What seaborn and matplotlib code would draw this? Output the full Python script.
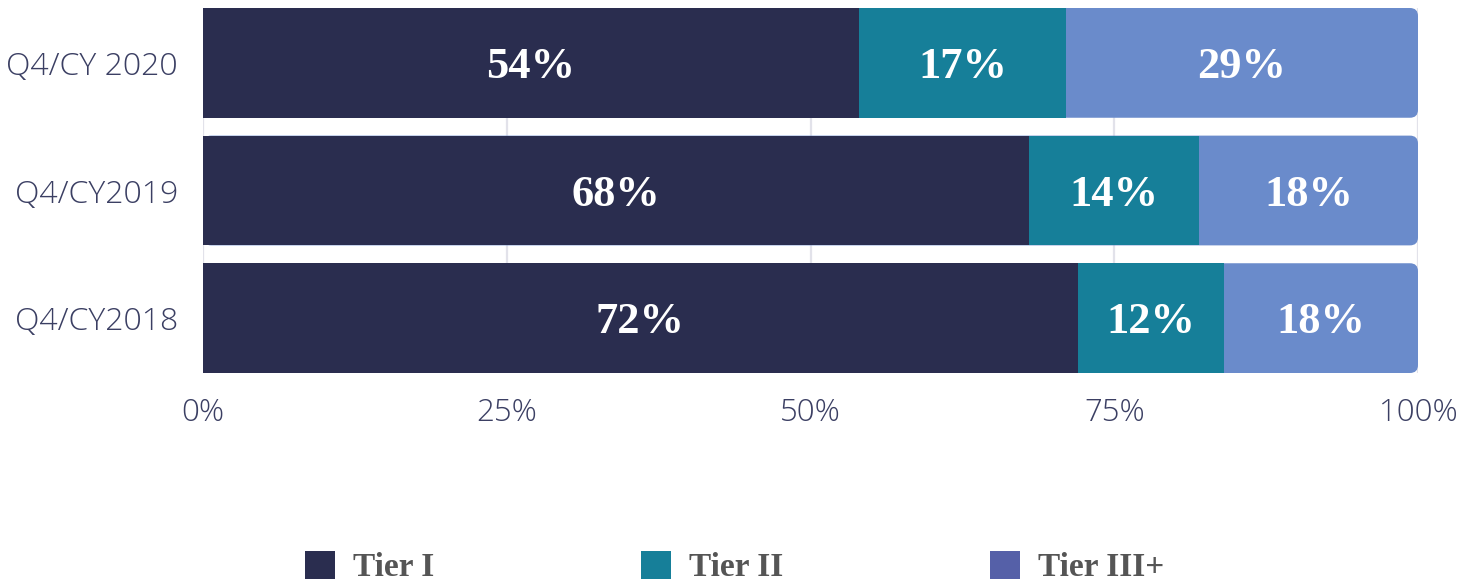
import numpy as np
import pandas as pd
import matplotlib
matplotlib.use("Agg")
import matplotlib.pyplot as plt
import matplotlib.transforms as mtrans
import seaborn as sns
from matplotlib.patches import FancyBboxPatch, Patch

# ---- data ----
periods = ["Q4/CY 2020", "Q4/CY2019", "Q4/CY2018"]
tiers = ["Tier I", "Tier II", "Tier III+"]
tier1 = [54, 68, 72]
tier2 = [17, 14, 12]
tier3 = [29, 18, 18]
xticks = [0, 25, 50, 75, 100]
xtick_labels = ["0%", "25%", "50%", "75%", "100%"]

bar_colors = ["#2a2d4f", "#167f99", "#6a8bcb"]
legend_colors = ["#2a2d4f", "#167f99", "#5560a8"]

sns.set_theme(style="white")
plt.rcParams["font.family"] = ["Open Sans", "DejaVu Sans"]

W, H = 1478, 588
fig = plt.figure(figsize=(W / 100, H / 100), dpi=100)
ax = fig.add_axes([203 / W, 1 - 373 / H, 1215 / W, 365 / H])

df = pd.DataFrame({"period": periods, "t1": tier1, "t2": tier2, "t3": tier3})
df["c1"] = df["t1"]
df["c2"] = df["t1"] + df["t2"]
df["c3"] = np.minimum(df["t1"] + df["t2"] + df["t3"], 100)

bar_w = 0.86
for xv in xticks:
    ax.axvline(xv, color="#e2e2ea", lw=1.6, zorder=0)

# full stack (Tier III+ visible part) with rounded right end
sns.barplot(data=df, y="period", x="c3", order=periods, color=bar_colors[2],
            width=bar_w, ax=ax, saturation=1, zorder=1)
px_per_x = 1215 / 100
px_per_y = 365 / (2 + bar_w)
rad = 8 / px_per_x
aspect = (1 / px_per_y) / (1 / px_per_x)
for p in list(ax.patches):
    x0, y0, w, h = p.get_x(), p.get_y(), p.get_width(), p.get_height()
    p.remove()
    ax.add_patch(FancyBboxPatch((x0, y0), w, h,
                                boxstyle=f"round,pad=0,rounding_size={rad}",
                                mutation_aspect=aspect, fc=bar_colors[2],
                                ec="none", zorder=1))
sns.barplot(data=df, y="period", x="c2", order=periods, color=bar_colors[1],
            width=bar_w, ax=ax, saturation=1, zorder=2)
sns.barplot(data=df, y="period", x="c1", order=periods, color=bar_colors[0],
            width=bar_w, ax=ax, saturation=1, zorder=3)
for p in ax.patches:
    p.set_edgecolor("none")
    p.set_linewidth(0)

# labels
lab_tr = mtrans.offset_copy(ax.transData, fig=fig, x=0, y=-4, units="dots")
for i in range(len(periods)):
    starts = [0, df["c1"][i], df["c2"][i]]
    ends = [df["c1"][i], df["c2"][i], df["c3"][i]]
    vals = [tier1[i], tier2[i], tier3[i]]
    for s, e, v in zip(starts, ends, vals):
        ax.text((s + e) / 2, i, f"{v}%", ha="center", va="center",
                color="white", fontsize=32, fontweight="bold",
                family=["Liberation Serif", "DejaVu Serif"], zorder=5,
                transform=lab_tr)

ax.set_xlim(0, 100)
ax.set_ylim(2 + bar_w / 2, -bar_w / 2)
ax.set_xticks(xticks)
ax.set_xticklabels(xtick_labels)
ax.set_xlabel("")
ax.set_ylabel("")
for s in ax.spines.values():
    s.set_visible(False)
ax.tick_params(axis="both", length=0, labelcolor="#3b3f63")
ax.tick_params(axis="x", pad=17, labelsize=22.5)
ax.tick_params(axis="y", pad=18, labelsize=23)
for lab in ax.get_xticklabels() + ax.get_yticklabels():
    lab.set_fontweight("light")

handles = [Patch(facecolor=c, edgecolor="none") for c in legend_colors]
leg = fig.legend(handles, tiers, loc="center", bbox_to_anchor=(0.497, 1 - 567 / H),
                 ncol=3, frameon=False, handlelength=0.9, handleheight=0.9,
                 handletextpad=0.55, columnspacing=6.2,
                 prop={"family": ["Liberation Serif", "DejaVu Serif"],
                       "weight": "bold", "size": 24})
for t in leg.get_texts():
    t.set_color("#555555")

fig.savefig("out.png", dpi=100)
